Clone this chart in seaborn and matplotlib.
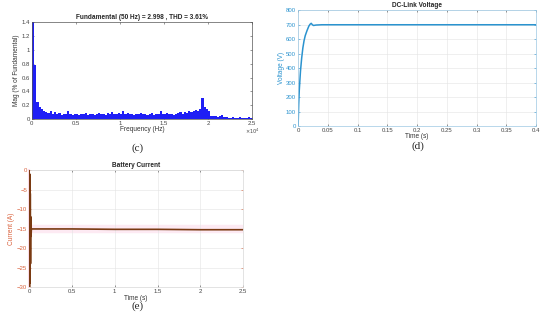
"""Three simulation panels: harmonic spectrum, DC-link voltage and battery current."""

import matplotlib

matplotlib.use("Agg")
import matplotlib.pyplot as plt
import matplotlib.ticker as mticker
import seaborn as sns

# (c) harmonic spectrum, one value per 250 Hz bin from 0 to 25 kHz
SPEC_STEP_HZ = 250
SPEC_MAG = [
    1.40, 0.78, 0.24, 0.18, 0.15, 0.12, 0.10, 0.09, 0.11, 0.08,
    0.10, 0.07, 0.09, 0.06, 0.08, 0.07, 0.12, 0.07, 0.06, 0.08,
    0.07, 0.06, 0.08, 0.07, 0.09, 0.06, 0.07, 0.08, 0.06, 0.07,
    0.09, 0.07, 0.08, 0.06, 0.09, 0.07, 0.10, 0.08, 0.07, 0.09,
    0.08, 0.11, 0.08, 0.09, 0.07, 0.08, 0.06, 0.08, 0.07, 0.09,
    0.07, 0.08, 0.06, 0.07, 0.09, 0.06, 0.07, 0.08, 0.11, 0.07,
    0.08, 0.09, 0.07, 0.08, 0.06, 0.08, 0.09, 0.10, 0.08, 0.10,
    0.09, 0.11, 0.10, 0.12, 0.13, 0.12, 0.15, 0.30, 0.18, 0.14,
    0.11, 0.05, 0.04, 0.04, 0.03, 0.05, 0.06, 0.03, 0.03, 0.02,
    0.02, 0.03, 0.02, 0.02, 0.03, 0.02, 0.02, 0.02, 0.03, 0.02,
    0.02,
]
SPEC_FREQ = [i * SPEC_STEP_HZ for i in range(len(SPEC_MAG))]
SPEC_TITLE = "Fundamental (50 Hz) = 2.998 , THD = 3.61%"

# (d) DC-link voltage
VDC_TIME = [0.0, 0.001, 0.002, 0.004, 0.006, 0.008, 0.010, 0.012, 0.015,
            0.018, 0.020, 0.022, 0.024, 0.026, 0.030, 0.040, 0.400]
VDC_VOLT = [0, 150, 250, 380, 470, 540, 590, 625, 660,
            690, 703, 710, 700, 695, 698, 700, 700]

# (e) battery current
IBAT_TIME = [0.0, 0.004, 0.007, 0.010, 0.013, 0.016, 0.019, 0.022, 0.026,
             0.05, 0.5, 1.0, 1.5, 2.0, 2.5]
IBAT_AMP = [0.0, -30.0, -1.0, -29.0, -6.0, -24.0, -12.0, -17.0, -15.1,
            -15.1, -15.1, -15.2, -15.2, -15.3, -15.3]

sns.set_theme(style="white")
plt.rcParams["font.family"] = ["Liberation Sans", "DejaVu Sans"]

TICK = 4.3
LAB = 4.7

fig = plt.figure(figsize=(5.5, 3.21), dpi=100)


def style_axis(axis, tick_color, spine_color):
    axis.tick_params(labelsize=TICK, colors=tick_color, length=1.5, width=0.4, pad=1.5,
                     direction="in", top=True, right=True, bottom=True, left=True)
    for spine in axis.spines.values():
        spine.set_color(spine_color)
        spine.set_linewidth(0.5)


# (c)
ax_c = fig.add_axes([0.058, 0.629, 0.400, 0.302])
ax_c.bar(SPEC_FREQ, SPEC_MAG, width=SPEC_STEP_HZ, color="#1f1ff5",
         edgecolor="none", align="edge")
ax_c.set_xlim(0, 25000)
ax_c.set_ylim(0, 1.4)
ax_c.set_xticks([0, 5000, 10000, 15000, 20000, 25000])
ax_c.xaxis.set_major_formatter(mticker.FuncFormatter(lambda v, _: f"{v / 1e4:g}"))
ax_c.set_yticks([0, 0.2, 0.4, 0.6, 0.8, 1.0, 1.2, 1.4])
ax_c.yaxis.set_major_formatter(mticker.FuncFormatter(lambda v, _: f"{v:g}"))
style_axis(ax_c, "#444444", "#555555")
ax_c.set_xlabel("Frequency (Hz)", fontsize=LAB, labelpad=0, color="#333333")
ax_c.set_ylabel("Mag (% of Fundamental)", fontsize=LAB, labelpad=1, color="#333333")
ax_c.set_title(SPEC_TITLE, fontsize=LAB, fontweight="bold", pad=2)
ax_c.text(1.0, -0.075, r"$\times10^4$", transform=ax_c.transAxes, fontsize=3.6,
          ha="center", va="top", color="#444444")

# (d)
ax_d = fig.add_axes([0.542, 0.607, 0.433, 0.361])
sns.lineplot(x=VDC_TIME, y=VDC_VOLT, ax=ax_d, color="#2b93cf", linewidth=1.1,
             sort=False, estimator=None)
ax_d.set_xlim(0, 0.4)
ax_d.set_ylim(0, 800)
ax_d.set_xticks([0, 0.05, 0.1, 0.15, 0.2, 0.25, 0.3, 0.35, 0.4])
ax_d.xaxis.set_major_formatter(mticker.FuncFormatter(lambda v, _: f"{v:g}"))
ax_d.set_yticks(range(0, 801, 100))
ax_d.grid(True, color="#e3e3e3", linewidth=0.4)
style_axis(ax_d, "#2b93cf", "#9cc8e3")
ax_d.tick_params(axis="x", colors="#444444")
ax_d.set_xlabel("Time (s)", fontsize=LAB, labelpad=0, color="#333333")
ax_d.set_ylabel("Voltage (V)", fontsize=LAB, labelpad=1, color="#2b93cf")
ax_d.set_title("DC-Link Voltage", fontsize=LAB, fontweight="bold", pad=2)

# (e)
ax_e = fig.add_axes([0.053, 0.106, 0.389, 0.364])
ax_e.axhspan(-16.0, -14.0, color="#fdeaf3", zorder=0)
sns.lineplot(x=IBAT_TIME, y=IBAT_AMP, ax=ax_e, color="#7a3a12", linewidth=1.2,
             sort=False, estimator=None, zorder=4)
ax_e.set_xlim(0, 2.5)
ax_e.set_ylim(-30, 0)
ax_e.set_xticks([0, 0.5, 1, 1.5, 2, 2.5])
ax_e.xaxis.set_major_formatter(mticker.FuncFormatter(lambda v, _: f"{v:g}"))
ax_e.set_yticks(range(-30, 1, 5))
ax_e.grid(True, color="#e3e3e3", linewidth=0.4)
style_axis(ax_e, "#d9603b", "#d8d8d8")
ax_e.spines["left"].set_color("#fbdce8")
ax_e.spines["left"].set_linewidth(1.5)
ax_e.tick_params(axis="x", colors="#444444")
ax_e.set_xlabel("Time (s)", fontsize=LAB, labelpad=1, color="#333333")
ax_e.set_ylabel("Current (A)", fontsize=LAB, labelpad=1, color="#d9603b")
ax_e.set_title("Battery Current", fontsize=LAB, fontweight="bold", pad=2)

# panel tags
for x, y, tag in [(0.251, 0.539, "(c)"), (0.760, 0.545, "(d)"), (0.251, 0.047, "(e)")]:
    fig.text(x, y, tag, fontsize=8, ha="center", va="center",
             family=["Liberation Serif", "DejaVu Serif"])

fig.savefig("out.png", dpi=100)
